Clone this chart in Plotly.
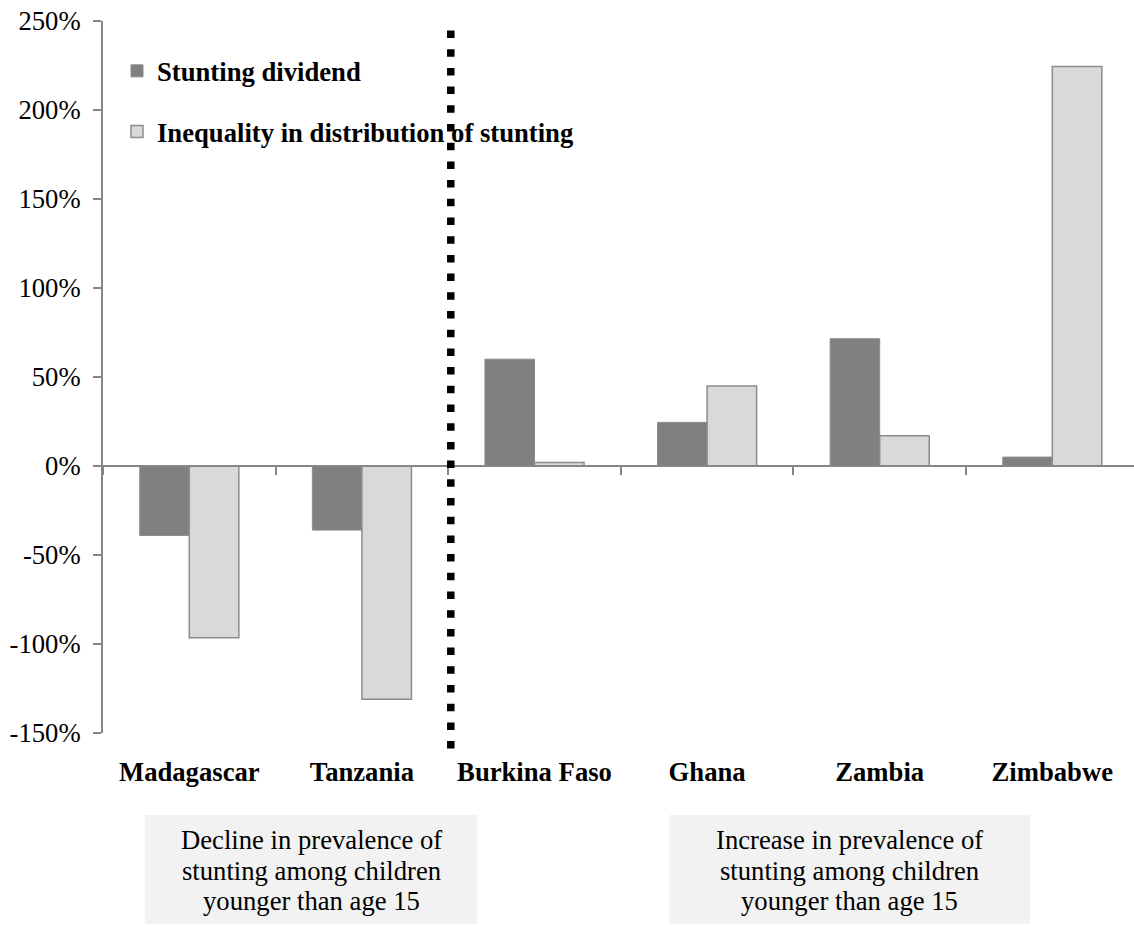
import plotly.graph_objects as go

# ---- data -------------------------------------------------------------
countries = ["Madagascar", "Tanzania", "Burkina Faso", "Ghana", "Zambia", "Zimbabwe"]
stunting_dividend = [-39, -36, 60, 24.5, 71.5, 5]
inequality_stunting = [-96.5, -131, 2, 45, 17, 224.5]
series_names = ["Stunting dividend", "Inequality in distribution of stunting"]

y_ticks = [-150, -100, -50, 0, 50, 100, 150, 200, 250]
y_tick_labels = [f"{v}%" for v in y_ticks]

decline_lines = ["Decline in prevalence of", "stunting among children", "younger than age 15"]
increase_lines = ["Increase in prevalence of", "stunting among children", "younger than age 15"]

# ---- page geometry ----------------------------------------------------
W, H = 1134, 925
ML, MR, MT, MB = 103, 0, 21, 192
PLOT_W = W - ML - MR
PLOT_H = H - MT - MB
CAT_PX = 172.6  # width of one category slot in pixels


def px_x(px):
    return (px - ML) / PLOT_W


def px_y(py):
    return (H - MB - py) / PLOT_H


FONT = "Liberation Serif, Times New Roman, serif"
FS = 26.67
AXIS_GREY = "#868686"

x_range = [-0.5, -0.5 + PLOT_W / CAT_PX]
boundaries = [i - 0.5 for i in range(len(countries) + 1)]

fig = go.Figure()
fig.add_trace(go.Bar(
    name=series_names[0], x=countries, y=stunting_dividend,
    marker=dict(color="#808080", line=dict(color="#8a8a8a", width=1)),
    legendgroup="a",
))
fig.add_trace(go.Bar(
    name=series_names[1], x=countries, y=inequality_stunting,
    marker=dict(color="#D9D9D9", line=dict(color="#8c8c8c", width=1.5)),
    legendgroup="b",
))
# empty trace that carries the zero-crossing axis with the category boundary ticks
fig.add_trace(go.Scatter(x=[], y=[], xaxis="x2", showlegend=False, hoverinfo="skip"))

# grey boxes with the prevalence notes under the axis
boxes = [(145, 477, decline_lines), (669, 1030, increase_lines)]
shapes = []
annotations = []
line_mid_px = [840.0, 870.5, 900.7]
for x0, x1, lines in boxes:
    shapes.append(dict(
        type="rect", xref="paper", yref="paper",
        x0=px_x(x0), x1=px_x(x1), y0=px_y(924), y1=px_y(815),
        fillcolor="#F2F2F2", line=dict(width=0), layer="below",
    ))
    for txt, ym in zip(lines, line_mid_px):
        annotations.append(dict(
            xref="paper", yref="paper", x=px_x((x0 + x1) / 2), y=px_y(ym),
            text=txt, showarrow=False, xanchor="center", yanchor="middle",
            font=dict(family=FONT, size=FS, color="black"),
        ))

# dotted divider between declining and increasing countries
shapes.append(dict(
    type="line", xref="x2", yref="paper",
    x0=1.515, x1=1.515, y0=px_y(30.5), y1=px_y(749),
    line=dict(color="black", width=7.5, dash="7.5px,11.2px"),
    layer="above",
))

fig.update_layout(
    width=W, height=H,
    margin=dict(l=ML, r=MR, t=MT, b=MB, pad=0),
    paper_bgcolor="white", plot_bgcolor="white",
    barmode="group", bargap=0.426, bargroupgap=0,
    font=dict(family=FONT, size=FS, color="black"),
    showlegend=True,
    legend=dict(
        x=px_x(117), y=px_y(47), xanchor="left", yanchor="top",
        bgcolor="rgba(0,0,0,0)", borderwidth=0,
        font=dict(family=FONT, size=FS, color="black", weight="bold"),
        tracegroupgap=23, traceorder="grouped",
    ),
    xaxis=dict(
        type="category", range=x_range, categoryorder="array", categoryarray=countries,
        showline=False, ticks="", showgrid=False, zeroline=False,
        tickfont=dict(family=FONT, size=FS, color="black", weight="bold"),
        ticklabelstandoff=20,
    ),
    xaxis2=dict(
        overlaying="x", anchor="free", position=(0 - y_ticks[0]) / (y_ticks[-1] - y_ticks[0]),
        type="linear", range=x_range,
        tickmode="array", tickvals=boundaries, ticks="outside", ticklen=8,
        tickwidth=1.5, tickcolor=AXIS_GREY,
        showline=True, linecolor=AXIS_GREY, linewidth=2,
        showticklabels=False, showgrid=False, zeroline=False,
    ),
    yaxis=dict(
        range=[y_ticks[0], y_ticks[-1]], tickmode="array", tickvals=y_ticks, ticktext=y_tick_labels,
        showline=True, linecolor=AXIS_GREY, linewidth=2,
        ticks="outside", ticklen=8, tickwidth=1.5, tickcolor=AXIS_GREY,
        showgrid=False, zeroline=False,
        tickfont=dict(family=FONT, size=FS, color="black"),
        ticklabelstandoff=7,
    ),
    shapes=shapes,
    annotations=annotations,
)

fig.write_html("out.html")
